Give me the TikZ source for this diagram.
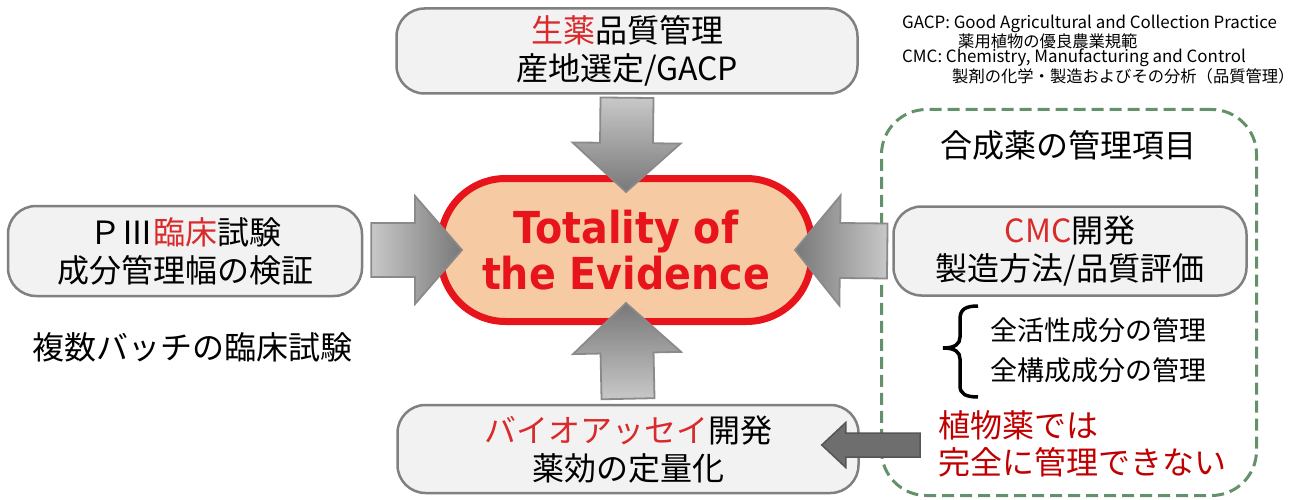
\documentclass[tikz,border=0pt]{standalone}
\usepackage{fontspec}
\setmainfont{Noto Sans CJK JP}
\newfontfamily\evfont{DejaVu Sans}[FakeStretch=0.9]
\usetikzlibrary{calc}
\definecolor{boxfill}{HTML}{F2F2F2}
\definecolor{boxline}{HTML}{808080}
\definecolor{jred}{HTML}{D92B2B}
\definecolor{evred}{HTML}{E8141B}
\definecolor{evfill}{HTML}{F6CBA3}
\definecolor{dgreen}{HTML}{62916A}
\definecolor{dred}{HTML}{C00000}
\definecolor{arrlight}{HTML}{C8C8C8}
\definecolor{arrdark}{HTML}{787878}
\definecolor{arrline}{HTML}{8A8A8A}
\definecolor{smallfill}{HTML}{6E6E6E}
\definecolor{smallline}{HTML}{555555}
% #1 style, #2 tail, #3 tip, #4 half shaft width, #5 half head width, #6 head length
\newcommand\fatarrow[6]{%
  \coordinate (fa-h) at ($(#3)!#6!(#2)$);
  \path[#1] ($(#2)!#4!90:(#3)$) -- ($(fa-h)!#4!90:(#3)$) -- ($(fa-h)!#5!90:(#3)$) -- (#3)
    -- ($(fa-h)!#5!-90:(#3)$) -- ($(fa-h)!#4!-90:(#3)$) -- ($(#2)!#4!-90:(#3)$) -- cycle;}
\tikzset{
  box/.style={draw=boxline, line width=2.5pt, fill=boxfill, rounded corners=28pt,
    align=center, inner sep=0pt, font=\fontsize{32}{38}\selectfont},
  evbox/.style={draw=evred, line width=7pt, fill=evfill, rounded corners=65pt,
    align=center, inner sep=0pt, text=evred, font=\evfont\bfseries\fontsize{44}{46}\selectfont},
  grpbox/.style={draw=dgreen, line width=3pt, dash pattern=on 12pt off 6pt, rounded corners=45pt, inner sep=0pt},
  bigarrow/.style={draw=arrline, line width=1.8pt, line join=miter},
  smallarrow/.style={draw=smallline, line width=1.5pt, fill=smallfill},
  txt/.style={inner sep=0pt, font=\fontsize{32}{38}\selectfont},
  subtxt/.style={inner sep=0pt, anchor=west, font=\fontsize{27}{32}\selectfont},
  notelat/.style={inner sep=0pt, anchor=west, font=\fontsize{16.9}{18}\selectfont},
  notejp/.style={inner sep=0pt, anchor=west, font=\fontsize{16.3}{18}\selectfont},
}
\begin{document}
\begin{tikzpicture}[x=1pt, y=-1pt]
\fill[white] (0,0) rectangle (1292,500);
\useasboundingbox (0,0) rectangle (1292,500);

% notes
\node[notelat] (gacp) at (902,24) {GACP: Good Agricultural and Collection Practice};
\node[notejp] (gacpj) at (958,41) {薬用植物の優良農業規範};
\node[notelat] (cmc) at (902,58) {CMC: Chemistry, Manufacturing and Control};
\node[notejp] (cmcj) at (952,76) {製剤の化学・製造およびその分析（品質管理）};

% group box
\node[grpbox, minimum width=375pt, minimum height=386pt] (grp) at (1069,302.5) {};
\node[txt] (grpt) at (1068,145) {合成薬の管理項目};

% boxes
\node[box, minimum width=461pt, minimum height=85pt] (top) at (627,51)
  {\textcolor{jred}{生薬}品質管理\\産地選定/GACP};
\node[box, minimum width=354pt, minimum height=90pt] (left) at (185,251)
  {ＰⅢ\textcolor{jred}{臨床}試験\\成分管理幅の検証};
\node[box, minimum width=353pt, minimum height=89pt] (right) at (1070,251)
  {\textcolor{jred}{CMC}開発\\製造方法/品質評価};
\node[box, minimum width=461pt, minimum height=88pt] (bot) at (628,449)
  {\textcolor{jred}{バイオアッセイ}開発\\薬効の定量化};

% center
\node[evbox, minimum width=371pt, minimum height=143pt] (ev) at (626,250)
  {Totality of\\the Evidence};

\node[txt, anchor=west] (multi) at (32,347) {複数バッチの臨床試験};

% brace and items
\draw[line width=3.5pt] (978,306) .. controls (966,306) and (960,309) .. (960,319) -- (960,337)
  .. controls (960,344) and (955,348) .. (943,348) .. controls (955,348) and (960,352) .. (960,359)
  -- (960,386) .. controls (960,394) and (966,397) .. (978,397);
\node[subtxt] (act) at (990,330) {全活性成分の管理};
\node[subtxt] (cons) at (990,370) {全構成成分の管理};

\node[txt, anchor=west, text=dred] (herb1) at (938,425) {植物薬では};
\node[txt, anchor=west, text=dred] (herb2) at (938,462) {完全に管理できない};

% arrow end points
\coordinate (tTail) at ($(top.south)+(0,3)$);
\coordinate (tTip) at ($(ev.north)+(0,17)$);
\coordinate (bTail) at ($(bot.north)+(0,-5)$);
\coordinate (bTip) at ($(ev.south)+(0,-22)$);
\coordinate (lTail) at ($(left.east)+(8,-1)$);
\coordinate (lTip) at ($(ev.west)+(25,0)$);
\coordinate (rTail) at ($(right.west)+(-5,0)$);
\coordinate (rTip) at ($(ev.east)+(-20,0)$);
\coordinate (sTail) at (920,445);
\coordinate (sTip) at ($(bot.east)+(-38,-4)$);

\fatarrow{bigarrow, top color=arrlight, bottom color=arrdark}{tTail}{tTip}{26.5pt}{54pt}{49pt}
\fatarrow{bigarrow, top color=arrdark, bottom color=arrlight}{bTail}{bTip}{26.5pt}{54pt}{50pt}
\fatarrow{bigarrow, left color=arrlight, right color=arrdark}{lTail}{lTip}{27pt}{54pt}{47pt}
\fatarrow{bigarrow, left color=arrdark, right color=arrlight}{rTail}{rTip}{27.5pt}{55pt}{45pt}
\fatarrow{smallarrow}{sTail}{sTip}{12pt}{22.5pt}{24pt}
\end{tikzpicture}
\end{document}
